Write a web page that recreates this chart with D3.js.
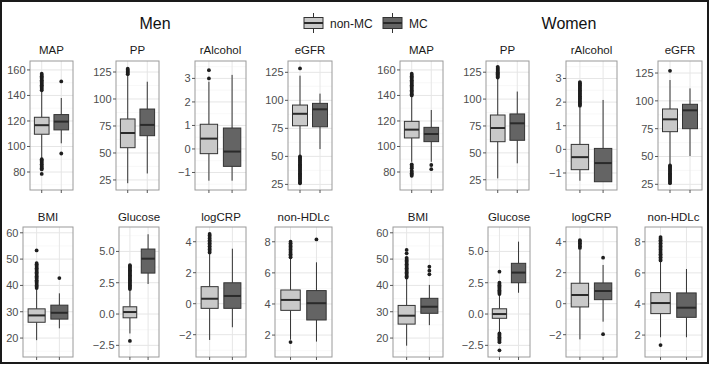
<!DOCTYPE html>
<html>
<head>
<meta charset="utf-8">
<script src="https://cdn.jsdelivr.net/npm/d3@7"></script>
<style>
  body { margin: 0; background: #fff; }
  svg { display: block; font-family: "Liberation Sans", Arial, Helvetica, sans-serif; }
  .tick-label { font-size: 11px; fill: #4d4d4d; }
  .panel-title { font-size: 11.5px; fill: #1a1a1a; }
  .sex-title { font-size: 16px; fill: #111; }
  .legend-label { font-size: 12px; fill: #1a1a1a; }
</style>
</head>
<body>
<script>
var sexes = ["Men", "Women"];
var variables = ["MAP", "PP", "rAlcohol", "eGFR", "BMI", "Glucose", "logCRP", "non-HDLc"];
var groups = ["non-MC", "MC"];

// y range of each panel
var yDomainMen = [[65.9, 167], [15.7, 135.2], [-1.745, 3.74], [20, 135.1], [12.8, 62.2], [-3.43, 6.95], [-3.44, 4.95], [0.59, 8.95]];
var yDomainWomen = [[65.9, 167], [15.5, 135.4], [-1.72, 3.74], [19.9, 135.8], [12.8, 62.2], [-3.43, 6.95], [-3.44, 4.95], [0.59, 8.95]];
var yTicks = [[80, 100, 120, 140, 160], [25, 50, 75, 100, 125], [-1, 0, 1, 2, 3], [25, 50, 75, 100, 125],
              [20, 30, 40, 50, 60], [-2.5, 0, 2.5, 5], [-2, 0, 2, 4], [2, 4, 6, 8]];
var yTickLabels = [["80", "100", "120", "140", "160"], ["25", "50", "75", "100", "125"], ["\u22121", "0", "1", "2", "3"],
                   ["25", "50", "75", "100", "125"], ["20", "30", "40", "50", "60"], ["\u22122.5", "0.0", "2.5", "5.0"],
                   ["\u22122", "0", "2", "4"], ["2", "4", "6", "8"]];

// [lower whisker, Q1, median, Q3, upper whisker]
var menNonMC = [[91, 109.6, 116.7, 122.9, 143], [22, 54.9, 68.5, 81.5, 122], [-1.35, -0.2, 0.44, 1.05, 2.86], [51, 77.3, 88, 95.8, 122],
                [19.2, 26, 28.6, 31.1, 38.5], [-1.55, -0.3, 0.16, 0.58, 1.9], [-2.34, -0.3, 0.32, 1.1, 3.2], [1.7, 3.59, 4.26, 4.9, 6.9]];
var menMC = [[102.5, 113, 119.5, 125, 138], [31, 66, 76, 90.7, 116], [-1.35, -0.74, -0.11, 0.89, 3.15], [56.5, 76.4, 92, 97.3, 106],
             [23.7, 27.2, 29.6, 32.5, 37], [2.4, 3.27, 4.42, 5.19, 6.37], [-1.52, -0.3, 0.5, 1.35, 3.55], [1.58, 2.97, 4.05, 4.86, 6.68]];
var womenNonMC = [[88, 106.7, 113.2, 119.7, 139], [26.3, 60.4, 73.1, 85.2, 119.4], [-1.33, -0.86, -0.33, 0.21, 1.8], [43, 72.3, 83.4, 92.7, 118.7],
                  [17.1, 25.3, 28.5, 32.4, 42.5], [-1.48, -0.34, 0, 0.42, 1.55], [-2.3, -0.21, 0.56, 1.32, 3.5], [1.86, 3.38, 4.06, 4.73, 6.75]];
var womenMC = [[88, 103.8, 109.8, 115, 128.6], [40.3, 61.7, 77.5, 86.2, 107], [-1.37, -1.37, -0.58, 0.04, 2.09], [50.4, 75, 91.5, 96.9, 111.2],
               [24.9, 29.4, 31.9, 35.1, 40.2], [1.7, 2.5, 3.31, 4.05, 5.78], [-1.16, 0.26, 0.82, 1.34, 2.5], [1.86, 3.14, 3.76, 4.71, 6.25]];

// outlying points
var menNonMCOut = [
  [144, 145, 146, 147, 148, 149, 150, 151, 152, 153, 154, 155, 156, 157, 90, 89, 88, 87, 86, 85, 84, 83, 82, 78.5],
  [123, 124, 125, 126, 127, 128],
  [3.0, 3.35],
  [128.5, 50, 49, 48, 47, 46, 45, 44, 43, 42, 41, 40, 39, 38, 37, 36, 35, 34, 33, 32, 31, 30, 29, 28, 27, 26],
  [39, 39.5, 40, 40.5, 41, 41.5, 42, 42.5, 43, 43.5, 44, 44.5, 45, 45.5, 46, 46.5, 47, 47.5, 48, 48.5, 53.3],
  [2.0, 2.1, 2.2, 2.3, 2.4, 2.5, 2.6, 2.7, 2.8, 2.9, 3.0, 3.1, 3.2, 3.3, 3.4, 3.5, 3.6, 3.7, 3.8, 3.9, -2.15],
  [3.3, 3.4, 3.5, 3.6, 3.7, 3.8, 3.9, 4.0, 4.1, 4.2, 4.3, 4.4, 4.5],
  [7.0, 7.1, 7.2, 7.3, 7.4, 7.5, 7.6, 7.7, 7.8, 7.9, 8.0, 1.55]
];
var menMCOut = [[151, 94.5], [], [], [], [42.8], [], [], [8.15]];
var womenNonMCOut = [
  [140, 141, 142, 143, 144, 145, 146, 147, 148, 149, 150, 151, 152, 153, 154, 155, 156, 157, 86, 85, 84, 83, 81, 80, 79, 78, 77],
  [120, 121, 122, 123, 124, 125, 126, 127, 128, 129, 130],
  [1.85, 1.9, 1.95, 2.0, 2.05, 2.1, 2.15, 2.2, 2.25, 2.3, 2.35, 2.4, 2.45, 2.5, 2.55, 2.6, 2.65, 2.7, 2.75, 2.8, 2.85],
  [127, 42, 41, 40, 39, 38, 37, 36, 35, 34, 33, 32, 31, 30, 29, 28, 27, 26],
  [43, 43.5, 44, 44.5, 45, 45.5, 46, 46.5, 47, 47.5, 48, 48.5, 49, 49.5, 50, 50.5, 52.2, 53.5],
  [1.6, 1.7, 1.8, 1.9, 2.0, 2.1, 2.2, 2.3, 2.4, 2.5, 3.38, -1.55, -1.65, -1.75, -1.85, -1.95, -2.05, -2.15, -2.25, -2.9],
  [3.6, 3.7, 3.8, 3.9, 4.0, 4.1],
  [6.8, 6.9, 7.0, 7.1, 7.2, 7.3, 7.4, 7.5, 7.6, 7.7, 7.8, 7.9, 8.0, 8.1, 8.2, 8.3, 1.36]
];
var womenMCOut = [[85.5, 82.2], [], [], [], [47.1, 45.6, 44.2], [], [2.97, -1.97], []];

var w = 709;
var h = 366;
var fillColors = ["#c9c9c9", "#646464"];

// panel placement
var rowTop = [61, 227];
var rowBottom = [190, 357];
var panelX = {
  Men: [[30, 73], [116, 159], [195, 246], [288, 332], [23, 73], [119, 159], [196, 246], [275, 332]],
  Women: [[400, 443], [486, 529], [566, 617], [658, 702], [393, 443], [488, 530], [566, 617], [645, 702]]
};

var stats = { Men: [menNonMC, menMC], Women: [womenNonMC, womenMC] };
var outliers = { Men: [menNonMCOut, menMCOut], Women: [womenNonMCOut, womenMCOut] };
var domains = { Men: yDomainMen, Women: yDomainWomen };

var svg = d3.select("body")
  .append("svg")
  .attr("width", w)
  .attr("height", h);

svg.append("rect")
  .attr("width", w)
  .attr("height", h)
  .attr("fill", "#fff");

sexes.forEach(function(sex) {
  variables.forEach(function(v, vi) {
    var row = vi < 4 ? 0 : 1;
    var x0 = panelX[sex][vi][0], x1 = panelX[sex][vi][1];
    var y0 = rowTop[row], y1 = rowBottom[row];

    var xScale = d3.scaleLinear().domain([0.4, 2.6]).range([x0, x1]);
    var yScale = d3.scaleLinear().domain(domains[sex][vi]).range([y1, y0]);
    var boxW = xScale(0.75) - xScale(0);

    var g = svg.append("g");

    //Grid lines (minor then major)
    var ticks = yTicks[vi];
    var step = ticks[1] - ticks[0];
    var minor = [];
    for (var t = ticks[0] - step / 2; t <= ticks[ticks.length - 1] + step; t += step) {
      if (yScale(t) > y0 && yScale(t) < y1) minor.push(t);
    }
    g.selectAll(".minor").data(minor).enter().append("line")
      .attr("x1", x0).attr("x2", x1)
      .attr("y1", function(d) { return yScale(d); })
      .attr("y2", function(d) { return yScale(d); })
      .attr("stroke", "#f3f3f3").attr("stroke-width", 0.6);
    g.selectAll(".major").data(ticks).enter().append("line")
      .attr("x1", x0).attr("x2", x1)
      .attr("y1", function(d) { return yScale(d); })
      .attr("y2", function(d) { return yScale(d); })
      .attr("stroke", "#e6e6e6").attr("stroke-width", 1);
    g.selectAll(".vmajor").data([1, 2]).enter().append("line")
      .attr("x1", function(d) { return xScale(d); })
      .attr("x2", function(d) { return xScale(d); })
      .attr("y1", y0).attr("y2", y1)
      .attr("stroke", "#e6e6e6").attr("stroke-width", 1);

    //Boxes
    groups.forEach(function(grp, gi) {
      var s = stats[sex][gi][vi];
      var cx = xScale(gi + 1);
      g.append("line")
        .attr("x1", cx).attr("x2", cx)
        .attr("y1", yScale(s[4])).attr("y2", yScale(s[3]))
        .attr("stroke", "#333").attr("stroke-width", 1);
      g.append("line")
        .attr("x1", cx).attr("x2", cx)
        .attr("y1", yScale(s[1])).attr("y2", yScale(s[0]))
        .attr("stroke", "#333").attr("stroke-width", 1);
      g.append("rect")
        .attr("x", cx - boxW / 2)
        .attr("y", yScale(s[3]))
        .attr("width", boxW)
        .attr("height", yScale(s[1]) - yScale(s[3]))
        .attr("fill", fillColors[gi])
        .attr("stroke", "#333").attr("stroke-width", 1);
      g.append("line")
        .attr("x1", cx - boxW / 2).attr("x2", cx + boxW / 2)
        .attr("y1", yScale(s[2])).attr("y2", yScale(s[2]))
        .attr("stroke", "#2a2a2a").attr("stroke-width", 2);
      g.selectAll(".out" + gi).data(outliers[sex][gi][vi]).enter().append("circle")
        .attr("cx", cx)
        .attr("cy", function(d) { return yScale(d); })
        .attr("r", 1.9)
        .attr("fill", "#1e1e1e");
    });

    //Panel border
    g.append("rect")
      .attr("x", x0).attr("y", y0)
      .attr("width", x1 - x0).attr("height", y1 - y0)
      .attr("fill", "none")
      .attr("stroke", "#9a9a9a").attr("stroke-width", 1);

    //Y axis
    g.selectAll(".ytick").data(ticks).enter().append("line")
      .attr("x1", x0 - 3).attr("x2", x0)
      .attr("y1", function(d) { return yScale(d); })
      .attr("y2", function(d) { return yScale(d); })
      .attr("stroke", "#555");
    g.selectAll(".ylab").data(ticks).enter().append("text")
      .attr("class", "tick-label")
      .attr("x", x0 - 4.5)
      .attr("y", function(d) { return yScale(d); })
      .attr("dy", "0.36em")
      .attr("text-anchor", "end")
      .text(function(d, i) { return yTickLabels[vi][i]; });

    //X ticks
    g.selectAll(".xtick").data([1, 2]).enter().append("line")
      .attr("x1", function(d) { return xScale(d); })
      .attr("x2", function(d) { return xScale(d); })
      .attr("y1", y1).attr("y2", y1 + 3)
      .attr("stroke", "#555");

    //Panel title
    g.append("text")
      .attr("class", "panel-title")
      .attr("x", (x0 + x1) / 2)
      .attr("y", row === 0 ? 54 : 220.5)
      .attr("text-anchor", "middle")
      .text(v);
  });
});

//Sex titles
svg.append("text").attr("class", "sex-title")
  .attr("x", 155).attr("y", 29).attr("text-anchor", "middle").text(sexes[0]);
svg.append("text").attr("class", "sex-title")
  .attr("x", 569).attr("y", 29).attr("text-anchor", "middle").text(sexes[1]);

//Legend
var legendX = [304, 383];
groups.forEach(function(grp, gi) {
  var lx = legendX[gi];
  var lg = svg.append("g");
  lg.append("line")
    .attr("x1", lx + 9.5).attr("x2", lx + 9.5)
    .attr("y1", 13).attr("y2", 33)
    .attr("stroke", "#333");
  lg.append("rect")
    .attr("x", lx).attr("y", 17.5)
    .attr("width", 19).attr("height", 11)
    .attr("fill", fillColors[gi])
    .attr("stroke", "#333");
  lg.append("line")
    .attr("x1", lx).attr("x2", lx + 19)
    .attr("y1", 23).attr("y2", 23)
    .attr("stroke", "#2a2a2a").attr("stroke-width", 2);
  lg.append("text")
    .attr("class", "legend-label")
    .attr("x", lx + 26)
    .attr("y", 27.5)
    .text(grp);
});

//Outer frame
svg.append("rect")
  .attr("x", 1).attr("y", 1)
  .attr("width", w - 2).attr("height", 362)
  .attr("fill", "none")
  .attr("stroke", "#1a1a1a").attr("stroke-width", 2);
</script>
</body>
</html>
